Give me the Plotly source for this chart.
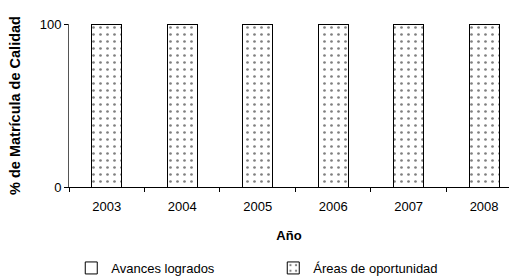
import plotly.graph_objects as go

years = ["2003", "2004", "2005", "2006", "2007", "2008"]
avances = [0, 0, 0, 0, 0, 0]
areas = [100, 100, 100, 100, 100, 100]
yticks = [0, 100]

fig = go.Figure()
fig.add_trace(go.Bar(
    x=years, y=avances, name="Avances logrados",
    marker=dict(color="white", line=dict(color="black", width=1)),
))
fig.add_trace(go.Bar(
    x=years, y=areas, name="Áreas de oportunidad",
    marker=dict(color="white", line=dict(color="black", width=1),
                pattern=dict(shape=".", fgcolor="black", bgcolor="white", size=7, solidity=0.12)),
))

fig.update_layout(
    barmode="stack",
    bargap=0.6,
    width=509, height=278,
    margin=dict(l=69, r=0, t=24, b=91, autoexpand=False),
    paper_bgcolor="white", plot_bgcolor="white",
    font=dict(family="Liberation Sans, Arial", size=13, color="black"),
    showlegend=True,
    legend=dict(orientation="h", xref="container", yref="container",
                x=0.14, y=0.036, xanchor="left", yanchor="middle",
                entrywidth=157, entrywidthmode="pixels", font=dict(size=13),
                traceorder="normal"),
    xaxis=dict(
        range=[-0.5, 5.33], tickson="boundaries", ticks="outside", ticklen=4,
        tickcolor="black", showline=True, linecolor="black", linewidth=1,
        ticklabelstandoff=7,
        title=dict(text="<b>Año</b>", font=dict(size=13), standoff=18),
        tickfont=dict(size=13), automargin=False,
    ),
    yaxis=dict(
        range=[0, 100], tickvals=yticks, ticks="outside", ticklen=4, tickcolor="black",
        showline=True, linecolor="#555555", linewidth=1,
        showgrid=True, gridcolor="#888888", gridwidth=1, zeroline=False,
        title=dict(text="<b>% de Matrícula de Calidad</b>", font=dict(size=14.5), standoff=15),
        tickfont=dict(size=13), automargin=False,
    ),
)
fig.write_html("out.html", config={"displayModeBar": False},
               post_script="document.body.style.margin='0';document.body.style.overflow='hidden';")
